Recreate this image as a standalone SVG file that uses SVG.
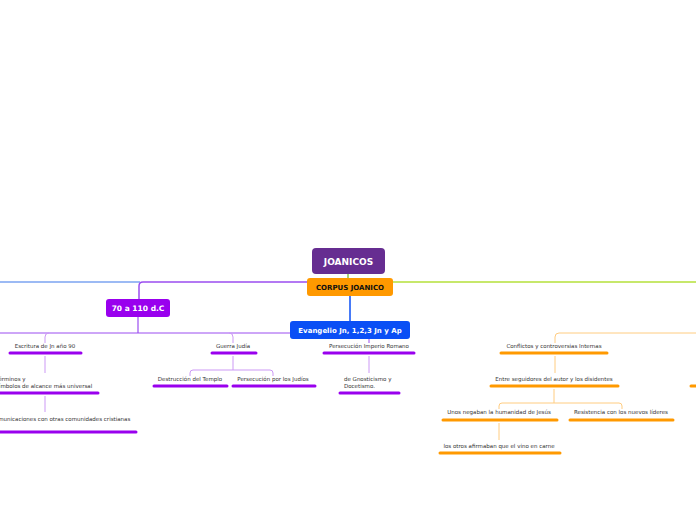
<svg xmlns="http://www.w3.org/2000/svg" width="696" height="520" viewBox="0 0 696 520">
<style>
.t{font-family:"DejaVu Sans","Liberation Sans",sans-serif;font-size:5.5px;fill:#333;text-anchor:middle}
.tl{text-anchor:start}
.b{font-family:"DejaVu Sans","Liberation Sans",sans-serif;font-weight:bold;text-anchor:middle}
.pb{stroke:#9900ee;stroke-width:3;stroke-linecap:round;fill:none}
.ob{stroke:#ff9900;stroke-width:3;stroke-linecap:round;fill:none}
.pc{stroke:#cc99f5;stroke-width:1;fill:none}
.oc{stroke:#ffcc80;stroke-width:1;fill:none}
</style>
<rect width="696" height="520" fill="#fff"/>
<g id="connectors">
<path d="M0 282 H140" stroke="#7ba3f0" stroke-width="1.5" fill="none"/>
<path d="M393 282 H696" stroke="#b5e03a" stroke-width="1.5" fill="none"/>
<path d="M307 282 H143 Q139 282 139 286 V300" stroke="#9b4df0" stroke-width="1.5" fill="none"/>
<path d="M348 274 V279" stroke="#8bc34a" stroke-width="1.5" fill="none"/>
<path d="M350 296 V322" stroke="#0a4ff5" stroke-width="1.5" fill="none"/>
<path d="M138 317 V333" stroke="#9b4df0" stroke-width="1.2" fill="none"/>
<path d="M0 333 H365 Q369 333 369 337 V343" stroke="#9b4df0" stroke-width="1" fill="none"/>
<path d="M45 337 Q45 333 49 333" class="pc"/>
<path d="M45 337 V343" class="pc"/>
<path d="M229 333 Q233 333 233 337 V343" class="pc"/>
<path d="M45 356 V373" class="pc"/>
<path d="M45 396 V412" class="pc"/>
<path d="M233 356 V370" class="pc"/>
<path d="M190 376 V373 Q190 370 193 370 H270 Q273 370 273 373 V376" class="pc"/>
<path d="M369 356 V373" class="pc"/>
<path d="M696 333 H559 Q555 333 555 337 V343" class="oc"/>
<path d="M555 356 V373" class="oc"/>
<path d="M554 389 V403" class="oc"/>
<path d="M499 409 V406 Q499 403 502 403 H619 Q622 403 622 406 V409" class="oc"/>
<path d="M499 423 V440" class="oc"/>
</g>
<g id="n-joanicos">
<rect x="312" y="248" width="73" height="26" rx="4" fill="#662d91"/>
<text class="b" x="348.5" y="265" font-size="9" fill="#fff">JOANICOS</text>
</g>
<g id="n-corpus">
<rect x="307" y="278" width="86" height="18" rx="3" fill="#ff9900"/>
<text class="b" x="350" y="289.5" font-size="7" fill="#111">CORPUS JOANICO</text>
</g>
<g id="n-70">
<rect x="106" y="299" width="64" height="18" rx="3" fill="#9900ee"/>
<text class="b" x="138" y="311" font-size="7.5" fill="#fff">70 a 110 d.C</text>
</g>
<g id="n-evangelio">
<rect x="290" y="321" width="120" height="18" rx="3" fill="#0a4ff5"/>
<text class="b" x="350" y="333" font-size="7" fill="#fff">Evangelio Jn, 1,2,3 Jn y Ap</text>
</g>
<g id="n-escritura">
<text class="t" x="45" y="348">Escritura de Jn año 90</text>
<path d="M10 353 H81" class="pb"/>
</g>
<g id="n-terminos">
<text class="t tl" x="-4" y="381">Términos y</text>
<text class="t tl" x="-4" y="388">símbolos de alcance más universal</text>
<path d="M0 393 H98" class="pb"/>
</g>
<g id="n-comunicaciones">
<text class="t tl" x="-9" y="421">Comunicaciones con otras comunidades cristianas</text>
<path d="M0 432 H136" class="pb"/>
</g>
<g id="n-guerra">
<text class="t" x="233" y="348">Guerra Judía</text>
<path d="M212 353 H256" class="pb"/>
</g>
<g id="n-destruccion">
<text class="t" x="190" y="381">Destrucción del Templo</text>
<path d="M154 386 H227" class="pb"/>
</g>
<g id="n-persecucion-judios">
<text class="t" x="273" y="381">Persecución por los Judíos</text>
<path d="M233 386 H315" class="pb"/>
</g>
<g id="n-persecucion-imperio">
<text class="t" x="369" y="348">Persecución Imperio Romano</text>
<path d="M324 353 H414" class="pb"/>
</g>
<g id="n-gnosticismo">
<text class="t tl" x="344" y="381">de Gnosticismo y</text>
<text class="t tl" x="344" y="388">Docetismo.</text>
<path d="M340 393 H399" class="pb"/>
</g>
<g id="n-conflictos">
<text class="t" x="554" y="348">Conflictos y controversias Internas</text>
<path d="M501 353 H607" class="ob"/>
</g>
<g id="n-entre">
<text class="t" x="554" y="381">Entre seguidores del autor y los disidentes</text>
<path d="M491 386 H618" class="ob"/>
</g>
<g id="n-unos">
<text class="t" x="499" y="414">Unos negaban la humanidad de Jesús</text>
<path d="M443 420 H557" class="ob"/>
</g>
<g id="n-resistencia">
<text class="t" x="621" y="414">Resistencia con los nuevos líderes</text>
<path d="M570 420 H673" class="ob"/>
</g>
<g id="n-otros">
<text class="t" x="499" y="448">los otros afirmaban que el vino en carne</text>
<path d="M440 453 H560" class="ob"/>
</g>
<g id="n-right">
<path d="M691 386 H700" class="ob"/>
</g>
</svg>
